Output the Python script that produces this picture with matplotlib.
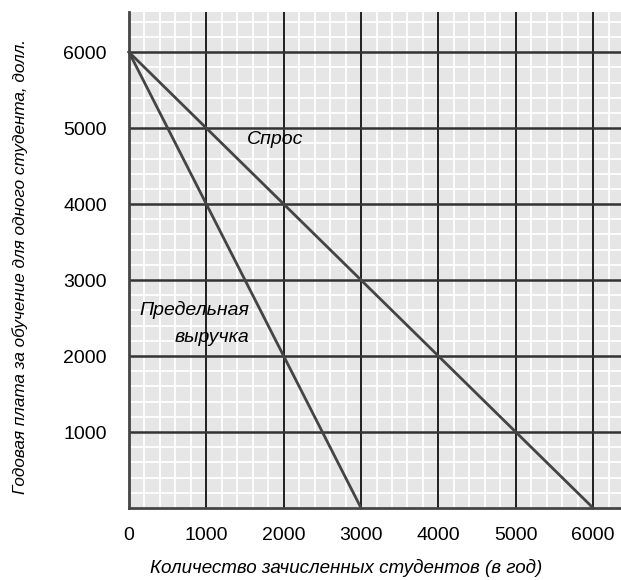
import numpy as np
import matplotlib.pyplot as plt
from matplotlib.ticker import MultipleLocator

plt.rcParams['font.family'] = ['Liberation Sans', 'DejaVu Sans']

# demand and marginal revenue lines (students, fee)
demand_x = [0, 6000]
demand_y = [6000, 0]
mr_x = [0, 3000]
mr_y = [6000, 0]
x_ticks = [0, 1000, 2000, 3000, 4000, 5000, 6000]
y_ticks = [1000, 2000, 3000, 4000, 5000, 6000]

fig = plt.figure(figsize=(6.21, 5.8), dpi=100)
ax = fig.add_axes([0.2077, 0.1241, 0.7923, 0.8549])
ax.set_facecolor('#e6e6e6')
ax.set_xlim(0, 6360)
ax.set_ylim(0, 6526)

ax.xaxis.set_minor_locator(MultipleLocator(200))
ax.yaxis.set_minor_locator(MultipleLocator(200))
ax.set_xticks(x_ticks)
ax.set_yticks(y_ticks)
ax.grid(which='minor', color='white', lw=1.3, zorder=0.5)
ax.set_axisbelow(True)
for xv in x_ticks[1:]:
    ax.axvline(xv, color='#111111', lw=1.3, zorder=1)
for yv in y_ticks:
    ax.axhline(yv, color='#333333', lw=1.8, zorder=1)

ax.tick_params(which='both', length=0)
ax.tick_params(axis='x', pad=14, labelsize=14)
ax.tick_params(axis='y', pad=16, labelsize=14)

for s in ['top', 'right']:
    ax.spines[s].set_visible(False)
for s in ['left', 'bottom']:
    ax.spines[s].set_color('#444444')
    ax.spines[s].set_linewidth(2)

ax.plot(demand_x, demand_y, color='#444444', lw=2, clip_on=False, zorder=3)
ax.plot(mr_x, mr_y, color='#444444', lw=2, clip_on=False, zorder=3)

ax.text(1530, 4850, 'Спрос', fontsize=14, style='italic', va='center')
ax.text(1552, 2605, 'Предельная', fontsize=14, style='italic', va='center', ha='right')
ax.text(1552, 2250, 'выручка', fontsize=14, style='italic', va='center', ha='right')

ax.set_xlabel('Количество зачисленных студентов (в год)', fontsize=13.5,
              style='italic')
ax.xaxis.set_label_coords(0.442, -0.103)
ax.set_ylabel('Годовая плата за обучение для одного студента, долл.', fontsize=12.3,
              style='italic')
ax.yaxis.set_label_coords(-0.205, 0.488)

fig.savefig('out.png', dpi=100)
